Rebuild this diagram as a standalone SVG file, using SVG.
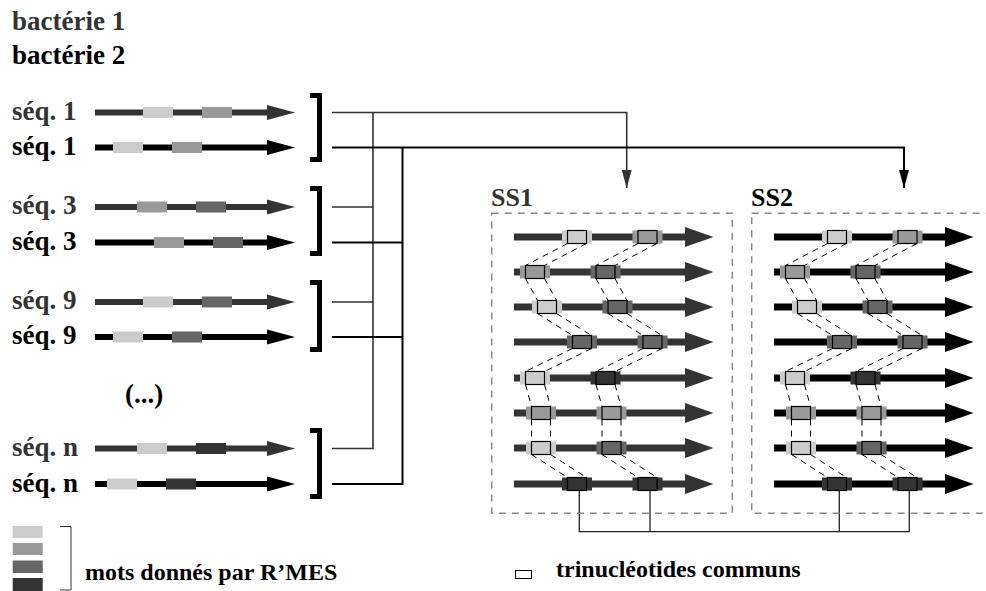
<svg xmlns="http://www.w3.org/2000/svg" xmlns:xlink="http://www.w3.org/1999/xlink" width="986" height="591" viewBox="0 0 986 591">
<style>
.t{font-family:"Liberation Serif","Times New Roman",serif;font-weight:bold}
.big{font-size:27px}
.mid{font-size:24px}
.ss{font-size:26px}
.g{fill:#333}
.k{fill:#000}
.seqG{stroke:#333;stroke-width:6;fill:none}
.seqK{stroke:#000;stroke-width:6;fill:none}
.br{stroke:#000;stroke-width:5;fill:none;stroke-linejoin:miter}
.cg{stroke:#333;stroke-width:1.6;fill:none}
.ck{stroke:#000;stroke-width:2;fill:none}
.dash{fill:none;stroke:#888;stroke-width:1.5;stroke-dasharray:7 6}
.bot{stroke:#222;stroke-width:1.3;fill:none}
</style>
<defs>
<marker id="aSeqG" markerUnits="userSpaceOnUse" markerWidth="30" markerHeight="16" refX="0" refY="7.5" orient="auto" overflow="visible"><path d="M0,0 L28,7.5 L0,15 z" fill="#333"/></marker>
<marker id="aSeqK" markerUnits="userSpaceOnUse" markerWidth="30" markerHeight="16" refX="0" refY="7.5" orient="auto" overflow="visible"><path d="M0,0 L28,7.5 L0,15 z" fill="#000"/></marker>
<marker id="aSsG" markerUnits="userSpaceOnUse" markerWidth="30" markerHeight="21" refX="0" refY="10" orient="auto" overflow="visible"><path d="M0,0 L28.5,10 L0,20 z" fill="#333"/></marker>
<marker id="aSsK" markerUnits="userSpaceOnUse" markerWidth="30" markerHeight="21" refX="0" refY="10" orient="auto" overflow="visible"><path d="M0,0 L28.5,10 L0,20 z" fill="#000"/></marker>
<marker id="aConG" markerUnits="userSpaceOnUse" markerWidth="19" markerHeight="11" refX="18" refY="5" orient="auto" overflow="visible"><path d="M0,0 L18,5 L0,10 z" fill="#333"/></marker>
<marker id="aConK" markerUnits="userSpaceOnUse" markerWidth="19" markerHeight="11" refX="18" refY="5" orient="auto" overflow="visible"><path d="M0,0 L18,5 L0,10 z" fill="#000"/></marker>
<g id="links" fill="none" stroke="#000" stroke-width="1" stroke-dasharray="6 5">
<path d="M567.5,243.5 L525.5,265.5 M586.5,243.5 L544.5,265.5"/>
<path d="M525.5,278.5 L537.5,300.5 M544.5,278.5 L556.5,300.5"/>
<path d="M537.5,313.5 L572.5,335.5 M556.5,313.5 L591.5,335.5"/>
<path d="M572.5,348.5 L525.5,371.5 M591.5,348.5 L544.5,371.5"/>
<path d="M525.5,384.5 L531.5,406.5 M544.5,384.5 L550.5,406.5"/>
<path d="M531.5,419.5 L531.5,441.5 M550.5,419.5 L550.5,441.5"/>
<path d="M531.5,454.5 L567.5,477.5 M550.5,454.5 L586.5,477.5"/>
</g>
<g id="ssBody">
<g stroke-width="7" fill="none">
<line x1="514" y1="237" x2="685" y2="237"/>
<line x1="514" y1="272" x2="685" y2="272"/>
<line x1="514" y1="307" x2="685" y2="307"/>
<line x1="514" y1="342" x2="685" y2="342"/>
<line x1="514" y1="378" x2="685" y2="378"/>
<line x1="514" y1="413" x2="685" y2="413"/>
<line x1="514" y1="448" x2="685" y2="448"/>
<line x1="514" y1="484" x2="685" y2="484"/>
</g>
<g stroke="none" marker-end="none">
<rect x="562" y="230.5" width="30" height="13" fill="#ccc"/><rect x="632.5" y="230.5" width="30" height="13" fill="#999"/>
<rect x="520" y="265.5" width="30" height="13" fill="#999"/><rect x="590.5" y="265.5" width="30" height="13" fill="#666"/>
<rect x="532" y="300.5" width="30" height="13" fill="#ccc"/><rect x="602.5" y="300.5" width="30" height="13" fill="#666"/>
<rect x="567" y="335.5" width="30" height="13" fill="#666"/><rect x="637.5" y="335.5" width="30" height="13" fill="#666"/>
<rect x="520" y="371.5" width="30" height="13" fill="#ccc"/><rect x="590.5" y="371.5" width="30" height="13" fill="#333"/>
<rect x="526" y="406.5" width="30" height="13" fill="#999"/><rect x="596.5" y="406.5" width="30" height="13" fill="#999"/>
<rect x="526" y="441.5" width="30" height="13" fill="#ccc"/><rect x="596.5" y="441.5" width="30" height="13" fill="#666"/>
<rect x="562" y="477.5" width="30" height="13" fill="#333"/><rect x="632.5" y="477.5" width="30" height="13" fill="#333"/>
</g>
<g fill="none" stroke="#000" stroke-width="1.2" marker-end="none">
<rect x="567.5" y="230.5" width="19" height="13"/><rect x="638" y="230.5" width="19" height="13"/>
<rect x="525.5" y="265.5" width="19" height="13"/><rect x="596" y="265.5" width="19" height="13"/>
<rect x="537.5" y="300.5" width="19" height="13"/><rect x="608" y="300.5" width="19" height="13"/>
<rect x="572.5" y="335.5" width="19" height="13"/><rect x="643" y="335.5" width="19" height="13"/>
<rect x="525.5" y="371.5" width="19" height="13"/><rect x="596" y="371.5" width="19" height="13"/>
<rect x="531.5" y="406.5" width="19" height="13"/><rect x="602" y="406.5" width="19" height="13"/>
<rect x="531.5" y="441.5" width="19" height="13"/><rect x="602" y="441.5" width="19" height="13"/>
<rect x="567.5" y="477.5" width="19" height="13"/><rect x="638" y="477.5" width="19" height="13"/>
</g>
<use xlink:href="#links" href="#links" marker-end="none"/>
<use xlink:href="#links" href="#links" x="70.5" marker-end="none"/>
</g>
</defs>

<g id="labels">
<text class="t big g" x="12" y="30">bactérie 1</text>
<text class="t big k" x="12" y="64">bactérie 2</text>
<text class="t big k" x="125" y="403">(...)</text>
</g>

<g id="seq1a"><text class="t big g" x="12" y="120">séq. 1</text><line class="seqG" x1="95" y1="112.5" x2="267" y2="112.5" marker-end="url(#aSeqG)"/><rect x="143" y="107" width="30" height="11" fill="#ccc"/><rect x="202" y="107" width="30" height="11" fill="#999"/></g>
<g id="seq1b"><text class="t big k" x="12" y="155">séq. 1</text><line class="seqK" x1="95" y1="147.5" x2="267" y2="147.5" marker-end="url(#aSeqK)"/><rect x="113" y="142" width="30" height="11" fill="#ccc"/><rect x="172" y="142" width="30" height="11" fill="#999"/></g>
<g id="seq3a"><text class="t big g" x="12" y="214">séq. 3</text><line class="seqG" x1="95" y1="207" x2="267" y2="207" marker-end="url(#aSeqG)"/><rect x="137" y="201.5" width="30" height="11" fill="#999"/><rect x="196" y="201.5" width="30" height="11" fill="#666"/></g>
<g id="seq3b"><text class="t big k" x="12" y="249.5">séq. 3</text><line class="seqK" x1="95" y1="242.5" x2="267" y2="242.5" marker-end="url(#aSeqK)"/><rect x="154" y="237" width="30" height="11" fill="#999"/><rect x="213" y="237" width="30" height="11" fill="#666"/></g>
<g id="seq9a"><text class="t big g" x="12" y="309">séq. 9</text><line class="seqG" x1="95" y1="302" x2="267" y2="302" marker-end="url(#aSeqG)"/><rect x="143" y="296.5" width="30" height="11" fill="#ccc"/><rect x="202" y="296.5" width="30" height="11" fill="#666"/></g>
<g id="seq9b"><text class="t big k" x="12" y="344">séq. 9</text><line class="seqK" x1="95" y1="337" x2="267" y2="337" marker-end="url(#aSeqK)"/><rect x="113" y="331.5" width="30" height="11" fill="#ccc"/><rect x="172" y="331.5" width="30" height="11" fill="#666"/></g>
<g id="seqna"><text class="t big g" x="12" y="456">séq. n</text><line class="seqG" x1="95" y1="448.5" x2="267" y2="448.5" marker-end="url(#aSeqG)"/><rect x="137" y="443" width="30" height="11" fill="#ccc"/><rect x="196" y="443" width="30" height="11" fill="#333"/></g>
<g id="seqnb"><text class="t big k" x="12" y="491.5">séq. n</text><line class="seqK" x1="95" y1="484" x2="267" y2="484" marker-end="url(#aSeqK)"/><rect x="107" y="478.5" width="30" height="11" fill="#ccc"/><rect x="166" y="478.5" width="30" height="11" fill="#333"/></g>

<g id="brackets">
<path class="br" d="M310,95.5 H319.5 V159.5 H310"/>
<path class="br" d="M310,188.5 H319.5 V253.5 H310"/>
<path class="br" d="M310,282.5 H319.5 V349.5 H310"/>
<path class="br" d="M310,430.5 H319.5 V496.5 H310"/>
</g>

<g id="connectors">
<path class="cg" d="M332,112.5 H626.7 V188" marker-end="url(#aConG)"/>
<path class="cg" d="M373,112.5 V448.5 H332 M332,207 H373 M332,302 H373"/>
<path class="ck" d="M332,147.5 H904 V188" marker-end="url(#aConK)"/>
<path class="ck" d="M402.5,147.5 V484 H332 M332,242.5 H402.5 M332,337 H402.5"/>
<path class="bot" d="M579.3,490.5 V531.7 H909.3 V490.5 M650,490.5 V531.7 M839.3,490.5 V531.7"/>
</g>

<g id="SS1">
<rect class="dash" x="491.7" y="213.3" width="240.6" height="300"/>
<text class="t ss g" x="491" y="206">SS1</text>
<use xlink:href="#ssBody" href="#ssBody" stroke="#333" marker-end="url(#aSsG)"/>
</g>

<g id="SS2">
<rect class="dash" x="751.7" y="213.3" width="245" height="300"/>
<text class="t ss k" x="751" y="206">SS2</text>
<use xlink:href="#ssBody" href="#ssBody" x="260" stroke="#000" marker-end="url(#aSsK)"/>
</g>

<g id="legend-words">
<rect x="12.7" y="526" width="30" height="12" fill="#ccc"/>
<rect x="12.7" y="543" width="30" height="12" fill="#999"/>
<rect x="12.7" y="560.5" width="30" height="12.5" fill="#666"/>
<rect x="12.7" y="578" width="30" height="13" fill="#333"/>
<path d="M60,526.5 H71 V590 H60" fill="none" stroke="#333" stroke-width="1"/>
<text class="t mid k" x="85" y="580">mots donnés par R’MES</text>
</g>

<g id="legend-trinuc">
<rect x="515.5" y="570.5" width="16" height="8" fill="#fff" stroke="#000" stroke-width="1"/>
<text class="t mid k" x="556" y="577">trinucléotides communs</text>
</g>
</svg>
